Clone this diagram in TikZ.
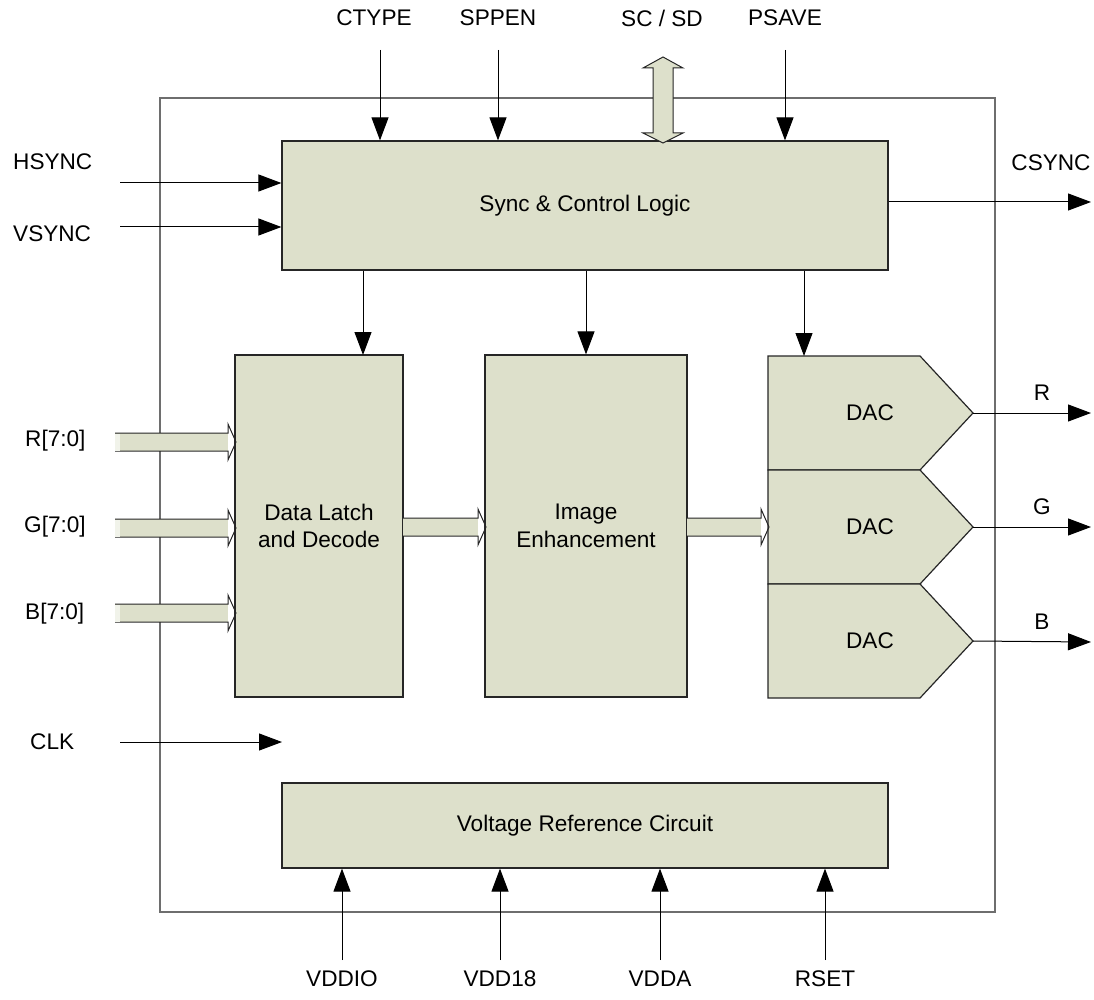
\documentclass[tikz,border=0pt]{standalone}
\usepackage{fontspec}
\setmainfont{Liberation Sans}
\usetikzlibrary{arrows.meta}
\definecolor{blkfill}{HTML}{DDE0CB}
\definecolor{chipline}{HTML}{6E6E6E}
\newcommand{\hbus}[3]{%
  \fill[blkfill] (#1,#3-9) rectangle (#2-8,#3+9);
  \draw[busline] (#1,#3-9) -- (#2-8,#3-9) -- (#2-8,#3-18) -- (#2,#3) -- (#2-8,#3+18) -- (#2-8,#3+9) -- (#1,#3+9);}
\begin{document}
\begin{tikzpicture}[x=1pt,y=-1pt,
  font=\fontsize{22.6}{27.5}\selectfont,
  box/.style={draw=black!85, line width=1.2pt, fill=blkfill, inner sep=0pt, align=center},
  sig/.style={draw=black, line width=1pt, -{Triangle[length=23pt,width=17pt]}},
  lbl/.style={inner sep=0pt},
  busline/.style={draw=black!85, line width=1pt},
  chip/.style={draw=chipline, line width=1.3pt, inner sep=0pt}]
\useasboundingbox (0,0) rectangle (1094,1000);

% outer chip boundary
\node[chip, minimum width=835pt, minimum height=814pt] (chipbox) at (577.5,505) {};

% main blocks
\node[box, minimum width=606pt, minimum height=129pt] (sync) at (585,205.5) {Sync \& Control Logic};
\node[box, minimum width=168pt, minimum height=342pt] (latch) at (319,526) {Data Latch\\and Decode};
\node[box, minimum width=202pt, minimum height=342pt] (img) at (586,526) {Image\\Enhancement};
\node[box, minimum width=606pt, minimum height=85pt] (vref) at (585,825.5) {Voltage Reference Circuit};

% DAC blocks
\foreach \t/\n in {356/R,470/G,584/B}{
  \draw[box] (768,\t) -- (920,\t) -- (973,\t+57) -- (920,\t+114) -- (768,\t+114) -- cycle;
  \node[lbl] (dac\n) at (870,\t+57) {DAC};
  \coordinate (dac\n tip) at (973,\t+57);
}
\coordinate (dactop) at (804,356);

% top inputs
\coordinate (ctype) at (380,50);
\coordinate (sppen) at (498,50);
\coordinate (psave) at (785,50);
\node[lbl] (ctypeL) at (374,18) {CTYPE};
\node[lbl] (sppenL) at (498,18) {SPPEN};
\node[lbl] (scsdL) at (662,18) {SC / SD};
\node[lbl] (psaveL) at (785,18) {PSAVE};
\draw[sig] (ctype) -- (ctype |- sync.north);
\draw[sig] (sppen) -- (sppen |- sync.north);
\draw[sig] (psave) -- (psave |- sync.north);

% SC/SD bidirectional bus
\draw[busline, fill=blkfill] (663,57) -- (683,68) -- (673,68) -- (673,133) -- (683,133) -- (663,143)
  -- (643,133) -- (653,133) -- (653,68) -- (643,68) -- cycle;

% left sync inputs
\coordinate (hs) at (120,183);
\coordinate (vs) at (120,227);
\node[lbl, anchor=west] (hsL) at (13,162) {HSYNC};
\node[lbl, anchor=west] (vsL) at (13,234) {VSYNC};
\draw[sig] (hs) -- (hs -| sync.west);
\draw[sig] (vs) -- (vs -| sync.west);

% CSYNC output
\coordinate (csync) at (1091,202);
\node[lbl] (csyncL) at (1051,163) {CSYNC};
\draw[sig] (sync.east |- csync) -- (csync);

% sync to lower blocks
\coordinate (latchin) at (363,355);
\draw[sig] (sync.south -| latchin) -- (latchin);
\draw[sig] (sync.south -| img.north) -- (img.north);
\draw[sig] (sync.south -| dactop) -- (dactop);

% RGB bus inputs
\node[lbl, anchor=west] (rinL) at (25,441) {R[7:0]};
\node[lbl, anchor=west] (ginL) at (24,527) {G[7:0]};
\node[lbl, anchor=west] (binL) at (25,614) {B[7:0]};
\foreach \y in {442,528,613}{
  \hbus{115}{236}{\y}
  \fill[blkfill!40!white] (115,\y-8.5) rectangle (120,\y+8.5);
}
% internal buses
\hbus{403}{486}{527}
\hbus{687}{769}{527}

% CLK
\coordinate (clk) at (120,742);
\coordinate (clkend) at (282,742);
\node[lbl, anchor=west] (clkL) at (30,742) {CLK};
\draw[sig] (clk) -- (clkend);

% RGB outputs
\foreach \n/\y in {R/413,G/527,B/642}{
  \coordinate (out\n) at (1091,\y);
  \draw[sig] (dac\n tip) -- (out\n);
  \node[lbl] (out\n L) at (1042,\y-20) {\n};
}

% bottom supplies
\foreach \nm/\x in {VDDIO/342,VDD18/500,VDDA/660,RSET/825}{
  \coordinate (\nm) at (\x,960);
  \draw[sig] (\nm) -- (\nm |- vref.south);
  \node[lbl] (\nm L) at (\x,979) {\nm};
}
\end{tikzpicture}
\end{document}
